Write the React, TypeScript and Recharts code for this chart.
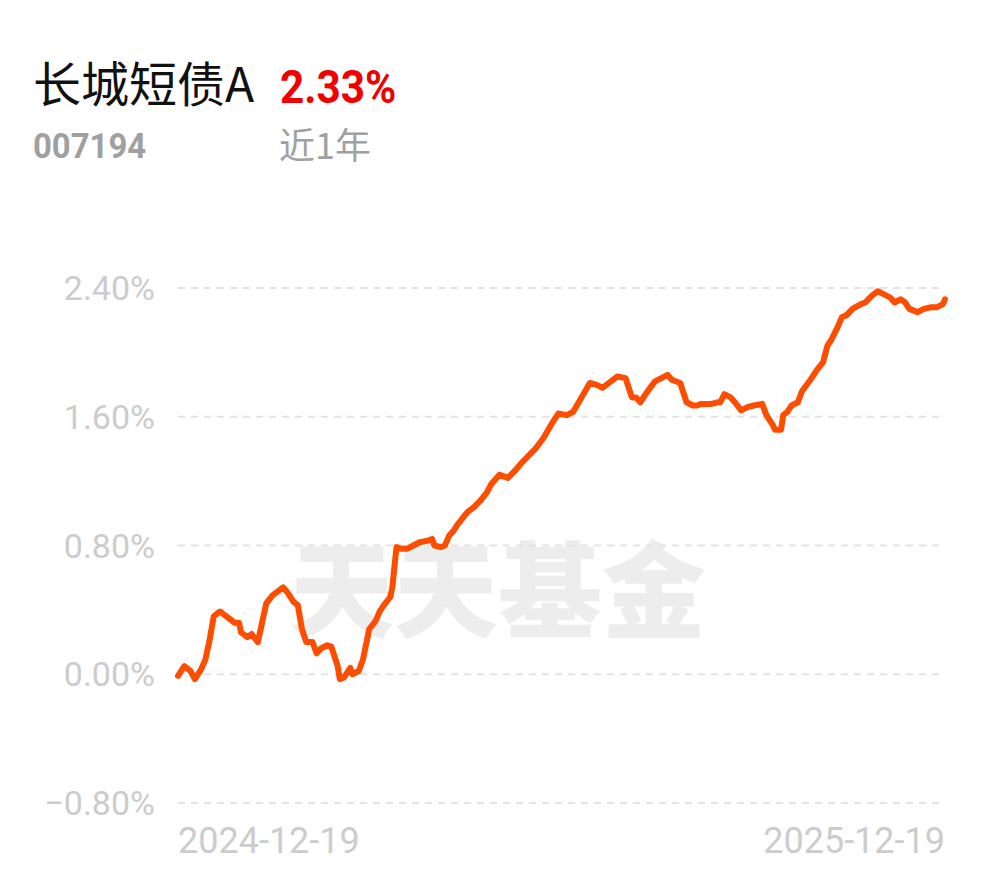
import React from 'react';
import { LineChart, Line, XAxis, YAxis, CartesianGrid } from 'recharts';

// day offset from 2024-12-19
const days = [
  0, 3, 6, 8, 11, 13, 15, 17, 20, 23, 27, 29, 30, 33, 35, 38, 40, 42, 45, 47,
  50, 52, 55, 57, 59, 61, 64, 66, 68, 71, 73, 75, 76, 77, 79, 82, 83, 86, 88, 91,
  94, 96, 98, 101, 102, 103, 104, 106, 109, 112, 115, 119, 121, 122, 125, 127, 129, 131, 133, 136,
  138, 141, 144, 147, 149, 153, 157, 160, 164, 167, 170, 174, 178, 181, 185, 188, 192, 196, 199, 202,
  206, 209, 213, 216, 218, 220, 223, 227, 233, 235, 239, 242, 245, 247, 249, 254, 257, 258, 260, 263,
  265, 268, 271, 274, 278, 280, 283, 284, 287, 288, 290, 292, 295, 297, 301, 304, 307, 309, 311, 314,
  316, 318, 321, 325, 327, 330, 333, 336, 339, 341, 344, 346, 348, 352, 355, 358, 361, 364, 365,
];

// cumulative return (%)
const returns = [
  -0.01, 0.05, 0.02, -0.03, 0.03, 0.09, 0.21, 0.36, 0.39, 0.36, 0.32, 0.32, 0.26, 0.23, 0.25, 0.2, 0.32, 0.44, 0.49, 0.51,
  0.54, 0.51, 0.45, 0.43, 0.28, 0.2, 0.2, 0.13, 0.16, 0.18, 0.17, 0.09, 0.05, -0.03, -0.02, 0.04, 0.0, 0.02, 0.09, 0.28,
  0.33, 0.39, 0.43, 0.48, 0.54, 0.67, 0.79, 0.78, 0.78, 0.8, 0.82, 0.83, 0.84, 0.8, 0.79, 0.8, 0.86, 0.89, 0.93, 0.98,
  1.01, 1.04, 1.08, 1.13, 1.18, 1.24, 1.22, 1.26, 1.32, 1.36, 1.4, 1.47, 1.56, 1.62, 1.61, 1.63, 1.72, 1.81, 1.8, 1.78,
  1.82, 1.85, 1.84, 1.72, 1.72, 1.69, 1.75, 1.82, 1.86, 1.83, 1.81, 1.69, 1.67, 1.67, 1.68, 1.68, 1.69, 1.69, 1.74, 1.72,
  1.69, 1.64, 1.66, 1.67, 1.68, 1.61, 1.55, 1.52, 1.52, 1.61, 1.63, 1.67, 1.69, 1.76, 1.83, 1.89, 1.94, 2.04, 2.08, 2.16,
  2.22, 2.23, 2.27, 2.3, 2.31, 2.35, 2.38, 2.36, 2.34, 2.31, 2.33, 2.31, 2.27, 2.25, 2.27, 2.28, 2.28, 2.3, 2.33,
];

const yTicks = [-0.8, 0, 0.8, 1.6, 2.4];
const xTicks = [0, 365];
const xTickLabels = ['2024-12-19', '2025-12-19'];

const fundName = '长城短债A';
const fundCode = '007194';
const periodReturn = '2.33%';
const periodLabel = '近1年';
const watermark = '天天基金';

const data = days.map((d, i) => ({ day: d, value: returns[i] }));

const fmtPct = (v: number) => (v < 0 ? '\u2212' : '') + Math.abs(v).toFixed(2) + '%';

const YTick = (props: any) => {
  const { x, y, payload } = props;
  return (
    <text x={x} y={y} dy="0.36em" textAnchor="end" fill="#cccccc"
      fontFamily="Roboto" fontSize={34}>
      {fmtPct(payload.value)}
    </text>
  );
};

const XTick = (props: any) => {
  const { x, y, payload, index } = props;
  const i = xTicks.indexOf(payload.value);
  return (
    <text x={x} y={y} dy={50} textAnchor={i === 0 ? 'start' : 'end'} fill="#cccccc"
      fontFamily="Roboto" fontSize={36}>
      {xTickLabels[i >= 0 ? i : index]}
    </text>
  );
};

export default function App() {
  return (
    <div style={{ position: 'absolute', left: 0, top: 0, width: 990, height: 878, background: '#ffffff', overflow: 'hidden' }}>
      <svg width={990} height={878} style={{ position: 'absolute', left: 0, top: 0 }}>
        <text x={33} y={102} fontFamily="'Noto Sans CJK SC'" fontSize={48} fill="#111111">{fundName}</text>
        <text transform="translate(280,103) scale(0.92,1)" fontFamily="Roboto" fontWeight={700} fontSize={46} fill="#f20000">{periodReturn}</text>
        <text transform="translate(33,158) scale(0.94,1)" fontFamily="Roboto" fontWeight={700} fontSize={35} fill="#a0a0a0">{fundCode}</text>
        <text x={279} y={159} fontFamily="'Noto Sans CJK SC'" fontSize={36} fill="#a0a0a0">{periodLabel}</text>
        <text x={290} y={630} fontFamily="'Noto Sans CJK SC'" fontWeight={900} fontSize={104} fill="#ededed">{watermark}</text>
      </svg>
      <div style={{ position: 'absolute', left: 0, top: 0 }}>
        <LineChart width={990} height={878} data={data}
          margin={{ top: 288, right: 45, bottom: 0, left: 0 }}>
          <CartesianGrid vertical={false} stroke="#e3e3e3" strokeWidth={2} strokeDasharray="7 6" />
          <XAxis dataKey="day" type="number" domain={[0, 365]} ticks={xTicks}
            axisLine={false} tickLine={false} tickSize={0} tickMargin={0} height={75}
            tick={<XTick />} interval={0} />
          <YAxis type="number" domain={[-0.8, 2.4]} ticks={yTicks} width={178}
            axisLine={false} tickLine={false} tickSize={0} tickMargin={23}
            tick={<YTick />} interval={0} />
          <Line type="linear" dataKey="value" stroke="#ff4d00" strokeWidth={6}
            dot={false} isAnimationActive={false} strokeLinejoin="round" strokeLinecap="round" />
        </LineChart>
      </div>
    </div>
  );
}
